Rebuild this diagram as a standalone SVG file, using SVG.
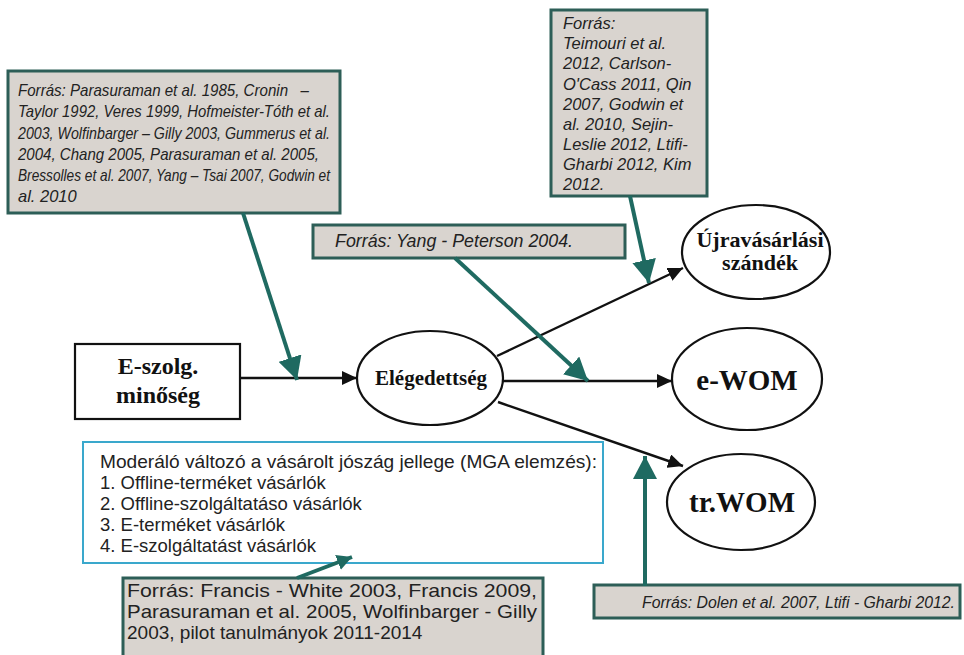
<svg xmlns="http://www.w3.org/2000/svg" width="964" height="655" viewBox="0 0 964 655">
<style>
.src{fill:#d9d4cf;stroke:#2d5e57;stroke-width:3}
.it{font-family:"Liberation Sans",Arial,sans-serif;font-style:italic;fill:#222}
.rg{font-family:"Liberation Sans",Arial,sans-serif;fill:#222}
.bd{font-family:"Liberation Serif","Times New Roman",serif;font-weight:bold;fill:#111;text-anchor:middle}
.node{fill:#fff;stroke:#111;stroke-width:2.2}
.blk{stroke:#111;stroke-width:2.4;fill:none}
.tl{stroke:#1f6a61;stroke-width:4;fill:none}
</style>
<defs>
<marker id="ab" markerUnits="userSpaceOnUse" markerWidth="16" markerHeight="14" refX="15" refY="7" orient="auto"><path d="M0,0 L15,7 L0,14 Z" fill="#111"/></marker>
<marker id="at" markerUnits="userSpaceOnUse" markerWidth="24" markerHeight="24" refX="23" refY="12" orient="auto"><path d="M0,0 L23,12 L0,24 Z" fill="#1f6a61"/></marker>
<marker id="as" markerUnits="userSpaceOnUse" markerWidth="16" markerHeight="16" refX="15" refY="8" orient="auto"><path d="M0,0 L15,8 L0,16 Z" fill="#1f6a61"/></marker>
</defs>

<g id="src1">
<rect class="src" x="8" y="71" width="332" height="142"/>
<text class="it" font-size="16.5" x="18" y="96" xml:space="preserve" textLength="291" lengthAdjust="spacingAndGlyphs">Forrás: Parasuraman et al. 1985, Cronin   –</text>
<text class="it" font-size="16.5" x="18" y="117" textLength="312" lengthAdjust="spacingAndGlyphs">Taylor 1992, Veres 1999, Hofmeister-Tóth et al.</text>
<text class="it" font-size="16.5" x="18" y="138.5" textLength="312" lengthAdjust="spacingAndGlyphs">2003, Wolfinbarger – Gilly 2003, Gummerus et al.</text>
<text class="it" font-size="16.5" x="18" y="159.5" textLength="301" lengthAdjust="spacingAndGlyphs">2004, Chang 2005, Parasuraman et al. 2005,</text>
<text class="it" font-size="16.5" x="18" y="181" textLength="312" lengthAdjust="spacingAndGlyphs">Bressolles et al. 2007, Yang – Tsai 2007, Godwin et</text>
<text class="it" font-size="16.5" x="18" y="202">al. 2010</text>
</g>

<g id="src2">
<rect class="src" x="551" y="10" width="156" height="186"/>
<text class="it" font-size="16.5" x="563" y="29">Forrás:</text>
<text class="it" font-size="16.5" x="563" y="49">Teimouri et al.</text>
<text class="it" font-size="16.5" x="563" y="69">2012, Carlson-</text>
<text class="it" font-size="16.5" x="563" y="89.5">O'Cass 2011, Qin</text>
<text class="it" font-size="16.5" x="563" y="109.5">2007, Godwin et</text>
<text class="it" font-size="16.5" x="563" y="129.5">al. 2010, Sejin-</text>
<text class="it" font-size="16.5" x="563" y="150">Leslie 2012, Ltifi-</text>
<text class="it" font-size="16.5" x="563" y="170">Gharbi 2012, Kim</text>
<text class="it" font-size="16.5" x="563" y="190">2012.</text>
</g>

<g id="src3">
<rect class="src" x="313" y="225" width="312" height="33"/>
<text class="it" font-size="17.5" x="335" y="247" textLength="238" lengthAdjust="spacingAndGlyphs">Forrás: Yang - Peterson 2004.</text>
</g>

<g id="src4">
<rect class="src" x="594" y="585" width="366" height="33"/>
<text class="it" font-size="16" x="642" y="608" textLength="313" lengthAdjust="spacingAndGlyphs">Forrás: Dolen et al. 2007, Ltifi - Gharbi 2012.</text>
</g>

<g id="src5">
<rect class="src" x="123" y="578" width="420" height="90"/>
<text class="rg" font-size="19" x="127" y="597" textLength="410" lengthAdjust="spacingAndGlyphs">Forrás: Francis - White 2003, Francis 2009,</text>
<text class="rg" font-size="19" x="127" y="618" textLength="410" lengthAdjust="spacingAndGlyphs">Parasuraman et al. 2005, Wolfinbarger - Gilly</text>
<text class="rg" font-size="19" x="127" y="639">2003, pilot tanulmányok 2011-2014</text>
</g>

<g id="moderator">
<rect x="83" y="442" width="520" height="121" fill="#fff" stroke="#3aa8cc" stroke-width="2"/>
<text class="rg" font-size="18.5" x="100" y="468" textLength="497" lengthAdjust="spacingAndGlyphs">Moderáló változó a vásárolt jószág jellege (MGA elemzés):</text>
<text class="rg" font-size="18.5" x="100" y="489">1. Offline-terméket vásárlók</text>
<text class="rg" font-size="18.5" x="100" y="510">2. Offline-szolgáltatáso vásárlók</text>
<text class="rg" font-size="18.5" x="100" y="531">3. E-terméket vásárlók</text>
<text class="rg" font-size="18.5" x="100" y="552">4. E-szolgáltatást vásárlók</text>
</g>

<g id="eszolg">
<rect class="node" x="75" y="344" width="165" height="75"/>
<text class="bd" font-size="24" x="158" y="374">E-szolg.</text>
<text class="bd" font-size="24" x="158" y="403">minőség</text>
</g>

<g id="elegedettseg">
<ellipse class="node" cx="430" cy="378" rx="73" ry="47"/>
<text class="bd" font-size="21" x="431" y="385">Elégedettség</text>
</g>

<g id="ujra">
<ellipse class="node" cx="756" cy="252" rx="74" ry="47"/>
<text class="bd" font-size="22" x="760" y="247">Újravásárlási</text>
<text class="bd" font-size="22" x="760" y="270">szándék</text>
</g>

<g id="ewom">
<ellipse class="node" cx="747" cy="379" rx="75" ry="51"/>
<text class="bd" font-size="29" x="747" y="390">e-WOM</text>
</g>

<g id="trwom">
<ellipse class="node" cx="741" cy="502" rx="74" ry="48"/>
<text class="bd" font-size="29" x="742" y="512">tr.WOM</text>
</g>

<g id="connectors">
<line class="blk" x1="240" y1="378" x2="357" y2="378" marker-end="url(#ab)"/>
<line class="blk" x1="497" y1="356" x2="683" y2="268" marker-end="url(#ab)"/>
<line class="blk" x1="503" y1="381" x2="672" y2="381" marker-end="url(#ab)"/>
<line class="blk" x1="498" y1="402" x2="683" y2="466" marker-end="url(#ab)"/>
<line class="tl" x1="243" y1="213" x2="297" y2="380" marker-end="url(#at)"/>
<line class="tl" x1="630" y1="196" x2="649" y2="283" marker-end="url(#at)"/>
<line class="tl" x1="455" y1="258" x2="588" y2="381" marker-end="url(#at)"/>
<line class="tl" x1="645" y1="586" x2="645" y2="456" marker-end="url(#at)"/>
<line class="tl" x1="297" y1="578" x2="352" y2="557" marker-end="url(#as)"/>
</g>
</svg>
